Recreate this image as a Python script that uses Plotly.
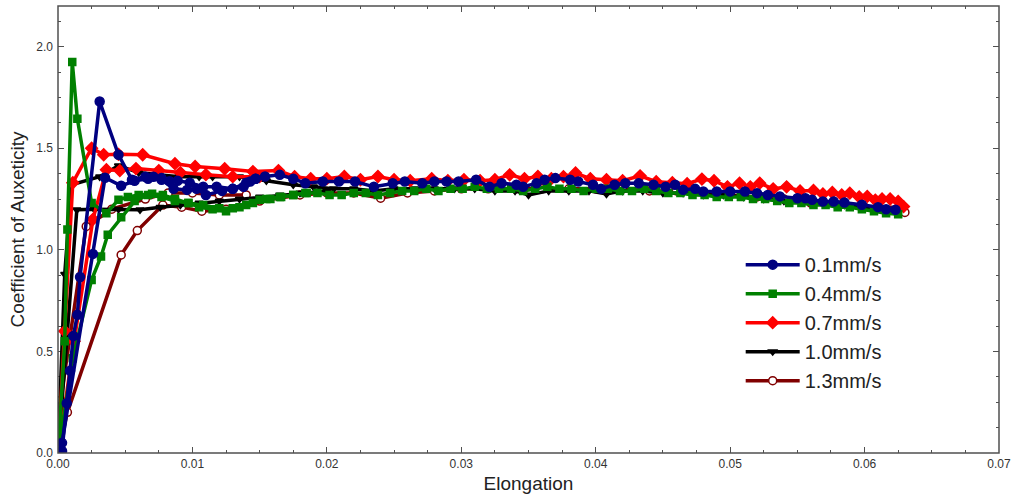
import plotly.graph_objects as go

# ---- 0.1 mm/s (two specimens) ----
blue_a_x = [0.0, 0.0003, 0.00065, 0.0009, 0.00114, 0.00144, 0.00164, 0.0031, 0.0045, 0.0055,
            0.0065, 0.0071, 0.0077, 0.0083, 0.0089, 0.0098, 0.0108, 0.0118, 0.0130, 0.0138,
            0.0143, 0.0147, 0.0154, 0.0165, 0.0175, 0.0184, 0.0197, 0.0209, 0.0221, 0.0235,
            0.0249, 0.0258, 0.0271, 0.0280, 0.0289, 0.0298, 0.0311, 0.0321, 0.0330, 0.0341,
            0.0346, 0.0356, 0.0362, 0.0370, 0.0381, 0.0387, 0.0398, 0.0404, 0.0414, 0.0422,
            0.0432, 0.0443, 0.0452, 0.0459, 0.0465, 0.0474, 0.0480, 0.0490, 0.0500, 0.0511,
            0.0520, 0.0528, 0.0537, 0.0550, 0.0556, 0.0561, 0.0569, 0.0577, 0.0585, 0.0598,
            0.0610, 0.0616, 0.0623]
blue_a_y = [0.0, 0.01, 0.245, 0.405, 0.576, 0.68, 0.866, 1.73, 1.468, 1.345,
            1.36, 1.36, 1.353, 1.338, 1.34, 1.33, 1.31, 1.31, 1.30, 1.31,
            1.336, 1.35, 1.361, 1.369, 1.35, 1.328, 1.336, 1.336, 1.336, 1.31,
            1.328, 1.336, 1.328, 1.336, 1.336, 1.336, 1.345, 1.31, 1.328, 1.32,
            1.31, 1.328, 1.345, 1.353, 1.345, 1.336, 1.32, 1.30, 1.32, 1.328,
            1.328, 1.32, 1.31, 1.32, 1.296, 1.30, 1.287, 1.287, 1.287, 1.287,
            1.279, 1.27, 1.263, 1.254, 1.254, 1.246, 1.238, 1.238, 1.233, 1.222,
            1.21, 1.20, 1.197]
blue_b_x = [0.0003, 0.0026, 0.0035, 0.0047, 0.0057, 0.0067, 0.0077, 0.0086, 0.0096, 0.0103,
            0.0110, 0.0122, 0.0130, 0.0140, 0.0147]
blue_b_y = [0.05, 0.98, 1.355, 1.315, 1.34, 1.35, 1.345, 1.30, 1.295, 1.30,
            1.27, 1.29, 1.30, 1.33, 1.35]

# ---- 0.4 mm/s ----
green_a_x = [0.0, 0.0005, 0.0007, 0.00106, 0.00144, 0.0025, 0.0036, 0.0045, 0.0052, 0.0060,
             0.0070, 0.0078, 0.0087, 0.0097, 0.0108, 0.0120, 0.0130, 0.0140, 0.0150, 0.0158,
             0.0166, 0.0175, 0.0184, 0.0193, 0.0202, 0.0211, 0.0220, 0.0229, 0.0238, 0.0247,
             0.0256, 0.0265, 0.0274, 0.0283, 0.0292, 0.0301, 0.0310, 0.0319, 0.0328, 0.0337,
             0.0346, 0.0355, 0.0364, 0.0373, 0.0382, 0.0391, 0.0400, 0.0409, 0.0418, 0.0427,
             0.0436, 0.0445, 0.0454, 0.0463, 0.0472, 0.0481, 0.0490, 0.0499, 0.0508, 0.0517,
             0.0526, 0.0535, 0.0544, 0.0553, 0.0562, 0.0571, 0.0580, 0.0589, 0.0598, 0.0607,
             0.0616, 0.0625]
green_a_y = [0.0, 0.55, 1.10, 1.925, 1.645, 1.23, 1.18, 1.246, 1.26, 1.27,
             1.276, 1.27, 1.25, 1.23, 1.22, 1.205, 1.205, 1.22, 1.246, 1.25,
             1.26, 1.27, 1.28, 1.28, 1.27, 1.27, 1.28, 1.28, 1.27, 1.28,
             1.29, 1.29, 1.30, 1.29, 1.30, 1.30, 1.31, 1.30, 1.30, 1.30,
             1.29, 1.30, 1.31, 1.30, 1.30, 1.29, 1.30, 1.30, 1.29, 1.29,
             1.30, 1.29, 1.28, 1.28, 1.27, 1.27, 1.26, 1.26, 1.26, 1.25,
             1.25, 1.24, 1.23, 1.23, 1.22, 1.22, 1.21, 1.21, 1.20, 1.19,
             1.18, 1.175]
green_b_x = [0.0, 0.0011, 0.0025, 0.0032, 0.0037, 0.0047, 0.0057, 0.0067, 0.0077, 0.0087,
             0.0097, 0.0105, 0.0115, 0.0125, 0.0135, 0.0145, 0.0155, 0.0165, 0.0175, 0.0185]
green_b_y = [0.0, 0.466, 0.852, 0.967, 1.074, 1.16, 1.24, 1.27, 1.26, 1.24,
             1.23, 1.21, 1.20, 1.19, 1.21, 1.23, 1.25, 1.26, 1.27, 1.28]

# ---- 0.7 mm/s ----
red_a_x = [0.0, 0.0005, 0.0011, 0.0025, 0.0034, 0.0045, 0.0063, 0.0087, 0.0102, 0.0124,
           0.0145, 0.0164, 0.0176, 0.0188, 0.0200, 0.0213, 0.0225, 0.0238, 0.0250, 0.0262,
           0.0278, 0.0290, 0.0302, 0.0314, 0.0325, 0.0336, 0.0347, 0.0357, 0.0367, 0.0376,
           0.0385, 0.0396, 0.0408, 0.0420, 0.0433, 0.0445, 0.0457, 0.0468, 0.0479, 0.0488,
           0.0498, 0.0507, 0.0515, 0.0522, 0.0532, 0.0542, 0.0552, 0.0562, 0.0569, 0.0576,
           0.0583, 0.0589, 0.0596, 0.0602, 0.0608, 0.0613, 0.0619, 0.0625, 0.0629]
red_a_y = [0.0, 0.6, 1.33, 1.50, 1.468, 1.47, 1.468, 1.424, 1.41, 1.399,
           1.385, 1.39, 1.36, 1.35, 1.35, 1.361, 1.345, 1.361, 1.345, 1.34,
           1.35, 1.34, 1.345, 1.34, 1.345, 1.369, 1.35, 1.361, 1.35, 1.36,
           1.378, 1.35, 1.345, 1.34, 1.364, 1.335, 1.33, 1.325, 1.348, 1.34,
           1.31, 1.328, 1.31, 1.328, 1.30, 1.31, 1.29, 1.292, 1.275, 1.282,
           1.27, 1.279, 1.26, 1.263, 1.245, 1.25, 1.25, 1.238, 1.213]
red_b_x = [0.0, 0.0012, 0.0026, 0.0036, 0.0046, 0.0058, 0.0075, 0.0091, 0.0110, 0.0130,
           0.0150]
red_b_y = [0.0, 0.55, 1.15, 1.394, 1.39, 1.40, 1.39, 1.38, 1.37, 1.36,
           1.36]

# ---- 1.0 mm/s ----
black_a_x = [0.0, 0.0005, 0.0010, 0.0031, 0.0045, 0.0060, 0.0075, 0.0090, 0.0105, 0.0115,
             0.0135, 0.0155, 0.0175, 0.0190, 0.0205, 0.0220, 0.0235, 0.0250, 0.0265, 0.0280,
             0.0295, 0.0310, 0.0325, 0.0340, 0.0350, 0.0365, 0.0380, 0.0395, 0.0408, 0.0420,
             0.0435, 0.0450, 0.0465, 0.0480, 0.0495, 0.0510, 0.0525, 0.0540, 0.0555, 0.0570,
             0.0585, 0.0600, 0.0615, 0.0625]
black_a_y = [0.0, 0.88, 1.32, 1.36, 1.414, 1.38, 1.37, 1.36, 1.36, 1.36,
             1.36, 1.34, 1.32, 1.31, 1.30, 1.30, 1.29, 1.30, 1.30, 1.30,
             1.30, 1.30, 1.29, 1.29, 1.27, 1.29, 1.29, 1.29, 1.275, 1.29,
             1.29, 1.28, 1.28, 1.27, 1.27, 1.26, 1.25, 1.24, 1.235, 1.225,
             1.22, 1.21, 1.20, 1.19]
black_b_x = [0.0, 0.0014, 0.0027, 0.0045, 0.0061, 0.0076, 0.0091, 0.0105, 0.0120, 0.0135,
             0.0150, 0.0165, 0.0180, 0.0200]
black_b_y = [0.0, 1.197, 1.20, 1.20, 1.197, 1.21, 1.22, 1.23, 1.24, 1.25,
             1.26, 1.27, 1.28, 1.29]

# ---- 1.3 mm/s ----
brown_a_x = [0.0, 0.0007, 0.0047, 0.0059, 0.0078, 0.0092, 0.0107, 0.0125, 0.0150, 0.0180,
             0.0200, 0.0220, 0.0240, 0.0260, 0.0280, 0.0300, 0.0320, 0.0340, 0.0360, 0.0380,
             0.0400, 0.0420, 0.0440, 0.0460, 0.0480, 0.0500, 0.0520, 0.0540, 0.0560, 0.0580,
             0.0600, 0.0620, 0.0630]
brown_a_y = [0.0, 0.2, 0.975, 1.095, 1.22, 1.21, 1.19, 1.20, 1.24, 1.27,
             1.28, 1.28, 1.254, 1.28, 1.29, 1.30, 1.30, 1.30, 1.30, 1.30,
             1.30, 1.30, 1.29, 1.29, 1.28, 1.27, 1.26, 1.25, 1.23, 1.22,
             1.21, 1.195, 1.184]
brown_b_x = [0.0, 0.0002, 0.0021, 0.0040, 0.0065, 0.0082, 0.0100, 0.0120, 0.0140]
brown_b_y = [0.0, 0.26, 1.115, 1.20, 1.25, 1.28, 1.28, 1.27, 1.27]

series = [
    # label, colour, marker symbol, marker fill, size, z-order, specimen A, specimen B
    ("0.1mm/s", "#000080", "circle", "#000080", 9, 5, (blue_a_x, blue_a_y), (blue_b_x, blue_b_y)),
    ("0.4mm/s", "#008000", "square", "#008000", 7, 4, (green_a_x, green_a_y), (green_b_x, green_b_y)),
    ("0.7mm/s", "#ff0000", "diamond", "#ff0000", 9, 3, (red_a_x, red_a_y), (red_b_x, red_b_y)),
    ("1.0mm/s", "#000000", "triangle-down", "#000000", 7, 2, (black_a_x, black_a_y), (black_b_x, black_b_y)),
    ("1.3mm/s", "#800000", "circle", "#ffffff", 8, 1, (brown_a_x, brown_a_y), (brown_b_x, brown_b_y)),
]

fig = go.Figure()
for name, color, symbol, fill, size, z, spec_a, spec_b in series:
    for i, (xs, ys) in enumerate((spec_a, spec_b)):
        fig.add_trace(go.Scatter(
            x=xs, y=ys, mode="lines+markers", name=name,
            legendgroup=name, showlegend=(i == 0), zorder=z,
            line=dict(color=color, width=3.5),
            marker=dict(symbol=symbol, size=size, color=fill,
                        line=dict(color=color, width=1.5)),
        ))

FONT = "Liberation Sans, Arial, sans-serif"
axis_common = dict(
    showline=False, mirror="ticks", automargin=False,
    ticks="inside", ticklen=6, tickwidth=1, tickcolor="#505050",
    showgrid=False, zeroline=False, ticklabeloverflow="allow",
    tickfont=dict(family=FONT, size=12, color="#333333"),
)

fig.update_xaxes(
    range=[0, 0.07], tick0=0, dtick=0.01, tickformat=".2f",
    minor=dict(dtick=0.0025, ticks="inside", ticklen=3, tickcolor="#505050"),
    title=dict(text="Elongation", standoff=6,
               font=dict(family=FONT, size=19, color="#222222")),
    ticklabelstandoff=2,
    **axis_common,
)
fig.update_yaxes(
    range=[0, 2.2], tick0=0, dtick=0.5, tickformat=".1f",
    minor=dict(dtick=0.125, ticks="inside", ticklen=3, tickcolor="#505050"),
    title=dict(text="Coefficient of Auxeticity", standoff=6,
               font=dict(family=FONT, size=19, color="#222222")),
    ticklabelstandoff=4,
    **axis_common,
)

# frame around the plotting area
fig.add_shape(type="rect", xref="x domain", yref="y domain",
              x0=0, x1=1, y0=0, y1=1, layer="above",
              line=dict(color="#505050", width=1.5))

fig.update_layout(
    width=1011, height=497,
    margin=dict(l=58, r=12, t=6, b=44),
    paper_bgcolor="white", plot_bgcolor="white",
    font=dict(family=FONT),
    legend=dict(
        x=0.7255, y=0.465, xanchor="left", yanchor="top",
        font=dict(size=20, color="#222222"),
        bgcolor="rgba(0,0,0,0)", tracegroupgap=0, itemwidth=54,
    ),
)

fig.write_html("out.html")
